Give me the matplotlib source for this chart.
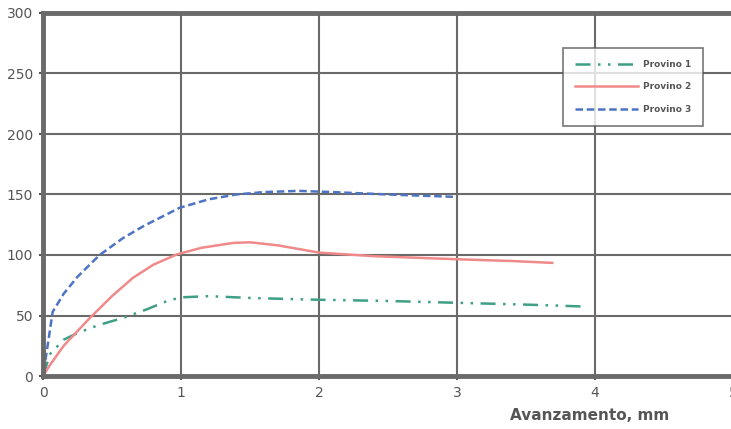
import matplotlib.pyplot as plt
import numpy as np

# Provino 1
x1 = [0.0, 0.05, 0.15, 0.24, 0.4, 0.58, 0.75, 0.9, 1.0, 1.2, 1.5, 2.0, 2.5, 3.0, 3.5, 3.9]
y1 = [0, 18, 30, 35, 42, 48, 55, 62, 65, 66, 64.5, 63, 62, 60.5, 59, 57.5]
# Provino 2
x2 = [0.0, 0.05, 0.15, 0.34, 0.5, 0.65, 0.8, 0.97, 1.15, 1.38, 1.5, 1.7, 2.0, 2.4, 3.0, 3.4, 3.69]
y2 = [0, 9, 25, 48, 66, 81, 92, 100.5, 106, 110, 110.5, 108, 102, 99, 96.5, 95, 93.5]
# Provino 3
x3 = [0.0, 0.02, 0.04, 0.07, 0.15, 0.25, 0.41, 0.58, 0.73, 0.99, 1.2, 1.4, 1.6, 1.85, 2.1, 2.5, 3.0]
y3 = [4, 15, 30, 53, 68, 82, 100, 114, 124, 139, 146, 150, 152, 153, 152, 150, 148]

fig = plt.figure(figsize=(7.31, 4.29), dpi=100)
ax = fig.add_axes([43/731, 53/429, 690/731, 363/429])

ax.plot(x1, y1, color='#3f9f86', lw=1.8, linestyle=(0, (6, 3, 1, 3, 1, 3)), label='Provino 1')
ax.plot(x2, y2, color='#f08a8a', lw=1.8, label='Provino 2')
ax.plot(x3, y3, color='#4d74c4', lw=1.8, linestyle=(0, (3, 1.5)), label='Provino 3')

ax.set_xlim(0, 5)
ax.set_ylim(0, 300)
ax.set_xticks(range(0, 6))
ax.set_yticks(range(0, 301, 50))
ax.grid(True, color='#6a6a6a', lw=1.5)
ax.set_axisbelow(True)
for s in ['left', 'top', 'bottom']:
    ax.spines[s].set_color('#6a6a6a')
    ax.spines[s].set_linewidth(3.5)
ax.spines['right'].set_visible(False)
ax.tick_params(colors='#555555', labelsize=10, length=3, width=1.5, pad=4)
for t in ax.get_xticklabels() + ax.get_yticklabels():
    t.set_color('#555555')

fig.text(590/731, 1 - 415/429, 'Avanzamento, mm', ha='center', va='center',
         fontsize=11, fontweight='bold', color='#555555')

leg = ax.legend(loc='upper left', bbox_to_anchor=((563-43)/690, (376-48)/363),
                borderaxespad=0, frameon=True, fancybox=False, handlelength=7,
                handletextpad=0.6, borderpad=1.3, labelspacing=1.5,
                prop={'weight': 'bold', 'size': 6.5})
leg.get_frame().set_edgecolor('#555555')
leg.get_frame().set_linewidth(1.2)
for t in leg.get_texts():
    t.set_color('#555555')

fig.savefig('out.png', dpi=100)
